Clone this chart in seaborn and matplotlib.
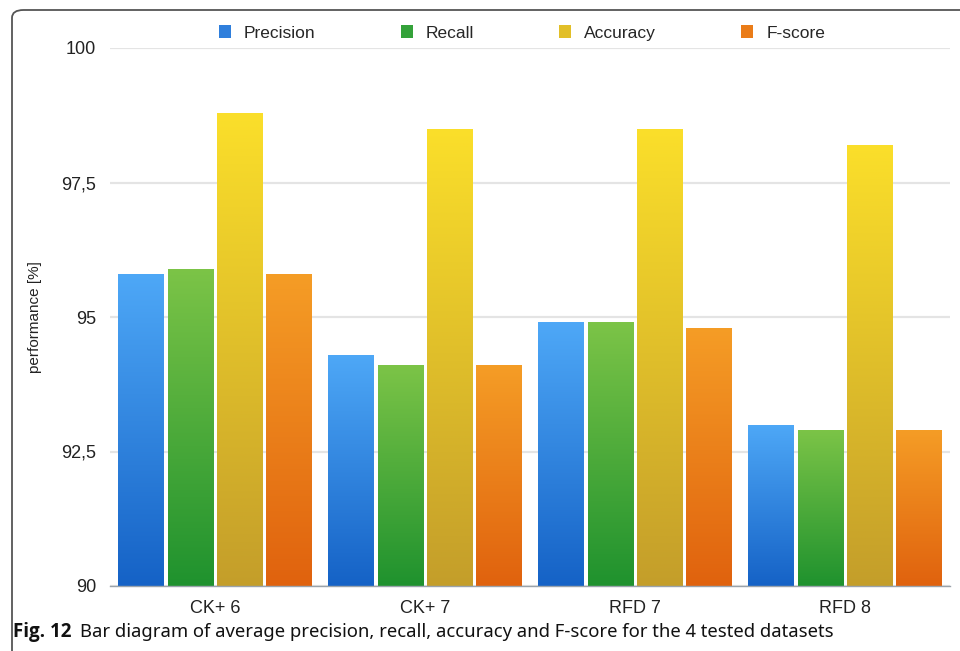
import numpy as np
import pandas as pd
import matplotlib
matplotlib.use("Agg")
import matplotlib.pyplot as plt
from matplotlib.colors import LinearSegmentedColormap
from matplotlib.patches import Patch, FancyBboxPatch
import seaborn as sns

# Average scores per dataset (%)
datasets = ["CK+ 6", "CK+ 7", "RFD 7", "RFD 8"]
metrics = ["Precision", "Recall", "Accuracy", "F-score"]
precision = [95.8, 94.3, 94.9, 93.0]
recall = [95.9, 94.1, 94.9, 92.9]
accuracy = [98.8, 98.5, 98.5, 98.2]
fscore = [95.8, 94.1, 94.8, 92.9]

y_ticks = [90, 92.5, 95, 97.5, 100]
y_tick_labels = ["90", "92,5", "95", "97,5", "100"]

# gradient colours per metric: (bottom, top)
grad_colors = {
    "Precision": ("#1562c6", "#4ea8f7"),
    "Recall": ("#1f922e", "#7cc447"),
    "Accuracy": ("#c49e2a", "#fbdf2a"),
    "F-score": ("#e0620e", "#f59d26"),
}
legend_colors = {
    "Precision": "#2f7fdc",
    "Recall": "#34a23a",
    "Accuracy": "#e2bf28",
    "F-score": "#ea7c18",
}

df = pd.DataFrame({
    "dataset": datasets * 4,
    "metric": np.repeat(metrics, len(datasets)),
    "value": precision + recall + accuracy + fscore,
})

sns.set_style("white")
plt.rcParams["font.family"] = ["Liberation Sans", "DejaVu Sans"]

W, H = 960, 651
fig = plt.figure(figsize=(W / 100, H / 100), dpi=100)
ax = fig.add_axes([110 / W, 1 - 586 / H, (950 - 110) / W, (586 - 48) / H])

sns.barplot(data=df, x="dataset", y="value", hue="metric",
            palette=legend_colors, width=0.94, gap=0.08,
            legend=False, ax=ax, saturation=1)

y_min, y_max = 90, 100
grad = np.linspace(0, 1, 256).reshape(-1, 1)
for cont, metric in zip(ax.containers, metrics):
    lo, hi = grad_colors[metric]
    cmap = LinearSegmentedColormap.from_list(metric, [lo, hi])
    for bar in cont:
        x, w = bar.get_x(), bar.get_width()
        top = bar.get_y() + bar.get_height()
        im = ax.imshow(grad, extent=[x, x + w, y_min, top], origin="lower",
                       aspect="auto", cmap=cmap, zorder=2)
        im.set_clip_path(bar)
        bar.set_facecolor("none")
        bar.set_edgecolor("none")

ax.set_xlim(-0.5, 3.5)
ax.set_ylim(y_min, y_max)
ax.set_yticks(y_ticks, y_tick_labels)
ax.set_axisbelow(True)
ax.yaxis.grid(True, color="#e4e4e4", linewidth=1.6)
ax.xaxis.grid(False)
for s in ["top", "right", "left"]:
    ax.spines[s].set_visible(False)
ax.spines["bottom"].set_color("#9aa3ab")
ax.spines["bottom"].set_linewidth(1.0)
ax.tick_params(axis="y", length=0, pad=10, labelsize=13, labelcolor="#222222")
ax.tick_params(axis="x", length=0, pad=10, labelsize=13, labelcolor="#222222")
ax.set_xlabel("")
ax.set_ylabel("performance [%]", fontsize=11, color="#222222", labelpad=14)

handles = [Patch(facecolor=legend_colors[m], edgecolor="none") for m in metrics]
fig.legend(handles, metrics, loc="center", bbox_to_anchor=(522 / W, 1 - 33 / H),
           ncol=4, frameon=False, fontsize=12.5, handlelength=0.7,
           handleheight=0.7, handletextpad=0.75, columnspacing=4.9)

# caption
cap_y = 1 - 632 / H
t1 = fig.text(13 / W, cap_y, "Fig. 12", fontsize=13.5, fontweight="bold",
              family=["Open Sans", "DejaVu Sans"], va="center", color="#111111")
fig.canvas.draw()
bb = t1.get_window_extent()
fig.text((bb.x1 + 9) / W, cap_y,
         "Bar diagram of average precision, recall, accuracy and F-score for the 4 tested datasets",
         fontsize=13.3, family=["Noto Sans", "DejaVu Sans"], va="center", color="#111111")

# rounded frame around the figure
frame = FancyBboxPatch((12 / W, -10 / H), (1000 - 12) / W, (641 + 10) / H,
                       boxstyle="round,pad=0,rounding_size=0.012",
                       transform=fig.transFigure, facecolor="none",
                       edgecolor="#555555", linewidth=1.3, zorder=10)
fig.patches.append(frame)

fig.savefig("out.png", dpi=100)
